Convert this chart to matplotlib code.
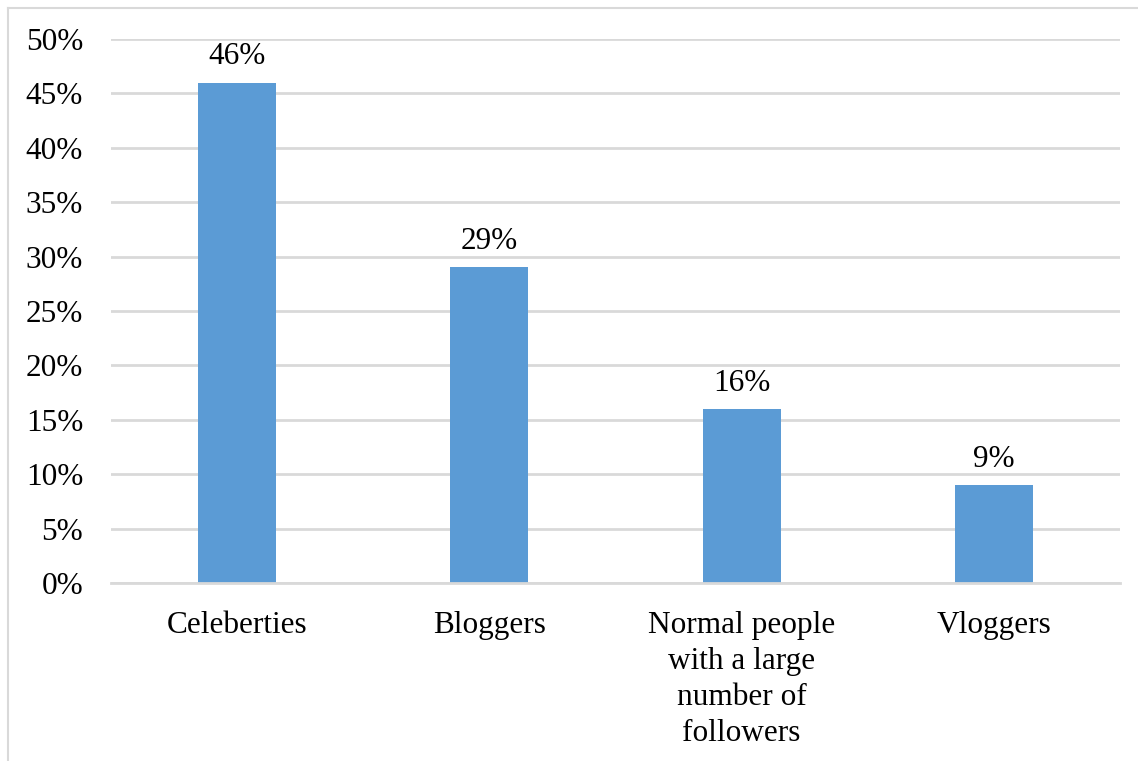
import matplotlib
matplotlib.use("Agg")
import matplotlib.pyplot as plt
from matplotlib.lines import Line2D
import numpy as np

categories = ["Celeberties", "Bloggers", "Normal people\nwith a large\nnumber of\nfollowers", "Vloggers"]
values = [46, 29, 16, 9]
value_labels = ["46%", "29%", "16%", "9%"]
yticks = [0, 5, 10, 15, 20, 25, 30, 35, 40, 45, 50]
ytick_labels = [f"{t}%" for t in yticks]

plt.rcParams['font.family'] = ['Liberation Serif', 'DejaVu Serif']

W, H = 1138, 761
fig = plt.figure(figsize=(W / 100, H / 100), dpi=100)
fig.patch.set_facecolor("white")

grid_color = "#D9D9D9"
bar_color = "#5B9BD5"

ax = fig.add_axes([111 / W, 1 - 583 / H, (1120 - 111) / W, (583 - 39) / H])
x = np.arange(len(categories))
ax.bar(x, values, width=0.31, color=bar_color, zorder=3)
ax.set_xlim(-0.5, len(categories) - 0.5)
ax.set_ylim(0, 50)
ax.set_yticks(yticks)
ax.set_yticklabels(ytick_labels)
ax.set_xticks(x)
ax.set_xticklabels(categories, linespacing=1.32)
ax.tick_params(axis="y", length=0, pad=20, labelsize=22.5, colors="black")
ax.tick_params(axis="x", length=0, pad=20, labelsize=22.5, colors="black")
ax.yaxis.grid(True, color=grid_color, linewidth=2, zorder=0)
for s in ["top", "right", "left"]:
    ax.spines[s].set_visible(False)
ax.spines["bottom"].set_color(grid_color)
ax.spines["bottom"].set_linewidth(2)
ax.spines["bottom"].set_zorder(4)

for xi, v, lab in zip(x, values, value_labels):
    ax.annotate(lab, (xi, v), xytext=(0, 8), textcoords="offset points",
                ha="center", va="bottom", fontsize=22.5)

# chart area border (left and top edges visible)
fig.add_artist(Line2D([8 / W, 8 / W], [0, 1 - 8 / H], transform=fig.transFigure,
                      color=grid_color, linewidth=1.5))
fig.add_artist(Line2D([8 / W, 1], [1 - 8 / H, 1 - 8 / H], transform=fig.transFigure,
                      color=grid_color, linewidth=1.5))

fig.savefig("out.png", dpi=100)
